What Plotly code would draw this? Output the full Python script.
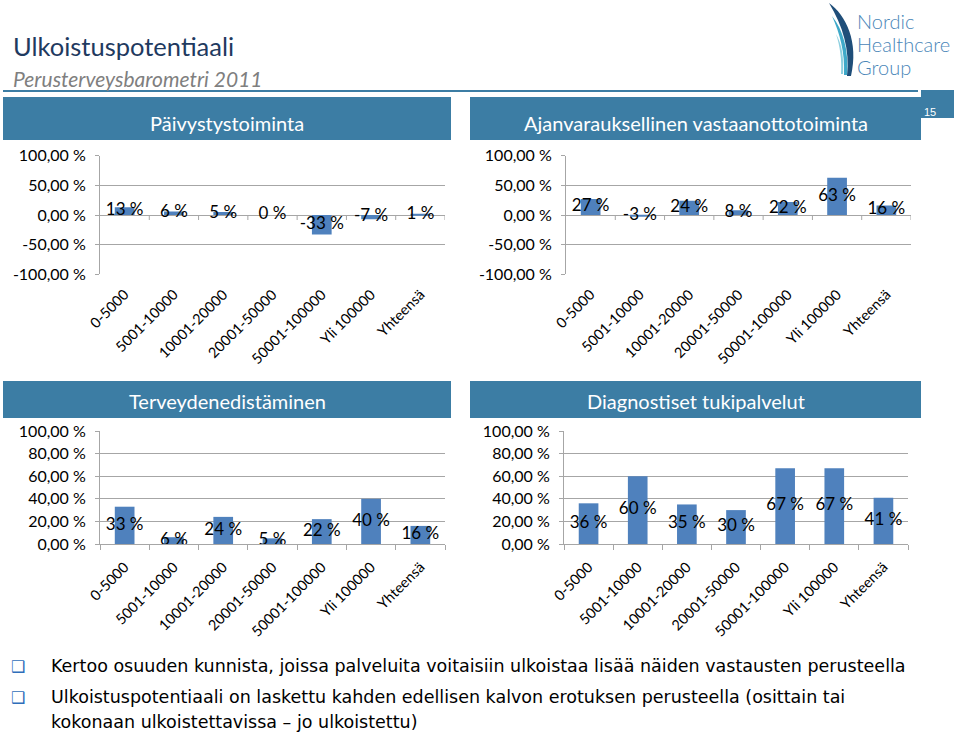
import plotly.graph_objects as go

W, H = 959, 737

categories = ["0-5000", "5001-10000", "10001-20000", "20001-50000", "50001-100000", "Yli 100000", "Yhteensä"]
paivystys = [13, 6, 5, 0, -33, -7, 1]
ajanvaraus = [27, -3, 24, 8, 22, 63, 16]
terveyden = [33, 6, 24, 5, 22, 40, 16]
diagnostiset = [36, 60, 35, 30, 67, 67, 41]

ticks_top = [100, 50, 0, -50, -100]
ticks_top_text = ["100,00 %", "50,00 %", "0,00 %", "-50,00 %", "-100,00 %"]
ticks_bot = [100, 80, 60, 40, 20, 0]
ticks_bot_text = ["100,00 %", "80,00 %", "60,00 %", "40,00 %", "20,00 %", "0,00 %"]

titles = ["Päivystystoiminta", "Ajanvarauksellinen vastaanottotoiminta", "Terveydenedistäminen", "Diagnostiset tukipalvelut"]

BAR = "#4F81BD"
HEAD = "#3C7DA4"
GRID = "#A6A6A6"
FONT = "Lato"

def X(px):
    return px / W

def Y(py):
    return 1 - py / H

fig = go.Figure()

panels = [
    (paivystys, (100, 445), (155.7, 274.3), (-100, 100), ticks_top, ticks_top_text, True),
    (ajanvaraus, (566, 911), (155.7, 274.3), (-100, 100), ticks_top, ticks_top_text, True),
    (terveyden, (100, 445), (431, 544), (0, 100), ticks_bot, ticks_bot_text, False),
    (diagnostiset, (564, 908), (431, 544), (0, 100), ticks_bot, ticks_bot_text, False),
]

shapes = []
annotations = []
layout_axes = {}

for i, (vals, (x0, x1), (y0, y1), rng, tv, tt, centered) in enumerate(panels, start=1):
    xa = "x" if i == 1 else f"x{i}"
    ya = "y" if i == 1 else f"y{i}"
    fig.add_trace(go.Bar(x=categories, y=vals, marker_color=BAR, marker_line_width=0,
                         xaxis=xa, yaxis=ya, hoverinfo="skip"))
    fig.add_trace(go.Scatter(x=categories, y=[v / 2 for v in vals], mode="text",
                             text=[f"{v} %" for v in vals],
                             textfont=dict(size=17, color="black", family=FONT),
                             xaxis=xa, yaxis=ya, cliponaxis=False, hoverinfo="skip"))
    xkey = "xaxis" if i == 1 else f"xaxis{i}"
    ykey = "yaxis" if i == 1 else f"yaxis{i}"
    layout_axes[xkey] = dict(
        domain=[X(x0), X(x1)], anchor=ya, range=[-0.5, 6.5], tickangle=-45,
        tickfont=dict(size=14.5, color="black", family=FONT),
        showgrid=False, zeroline=False, automargin=False,
        showline=not centered, linecolor=GRID, linewidth=1,
        ticks="" if centered else "outside", tickson="boundaries", ticklen=5, tickcolor=GRID,
        ticklabelstandoff=8, fixedrange=True,
    )
    layout_axes[ykey] = dict(
        domain=[Y(y1), Y(y0)], anchor=xa, range=list(rng), tickvals=tv, ticktext=tt,
        tickfont=dict(size=16, color="black", family=FONT),
        showgrid=True, gridcolor=GRID, gridwidth=1, zeroline=False, automargin=False,
        showline=True, linecolor=GRID, linewidth=1, ticks="outside", ticklen=4, tickcolor=GRID,
        ticklabelstandoff=6, fixedrange=True,
    )
    if centered:
        for b in range(len(categories)):
            shapes.append(dict(type="line", xref=xa, yref=ya, ysizemode="pixel", yanchor=0,
                               x0=b + 0.5, x1=b + 0.5, y0=0, y1=-5,
                               line=dict(color=GRID, width=1)))

# Header bars
for (bx0, by0, bx1, by1), title in zip([(3, 97, 451, 140), (470, 97, 921, 140), (3, 381, 451, 418), (470, 381, 921, 418)], titles):
    shapes.append(dict(type="rect", xref="paper", yref="paper", x0=X(bx0), x1=X(bx1), y0=Y(by1), y1=Y(by0),
                       fillcolor=HEAD, line_width=0, layer="below"))
    cy = 123 if by0 < 200 else 401
    annotations.append(dict(x=X((bx0 + bx1) / 2), y=Y(cy), xref="paper", yref="paper", text=title,
                            showarrow=False, xanchor="center", yanchor="middle",
                            font=dict(size=20, color="white", family=FONT)))

# Line under subtitle
shapes.append(dict(type="line", xref="paper", yref="paper", x0=X(3), x1=X(918), y0=Y(91), y1=Y(91),
                   line=dict(color=HEAD, width=2)))
# Page number tab
shapes.append(dict(type="rect", xref="paper", yref="paper", x0=X(921), x1=X(954), y0=Y(118), y1=Y(90),
                   fillcolor=HEAD, line_width=0))
annotations.append(dict(x=X(938), y=Y(104), xref="paper", yref="paper", text="15", showarrow=False,
                        font=dict(size=11, color="white", family="Liberation Sans")))

# Title and subtitle
annotations.append(dict(x=X(11), y=Y(46), xref="paper", yref="paper", text="Ulkoistuspotentiaali",
                        showarrow=False, xanchor="left", yanchor="middle",
                        font=dict(size=25.5, color="#1F3A5F", family=FONT)))
annotations.append(dict(x=X(11), y=Y(79), xref="paper", yref="paper", text="<i>Perusterveysbarometri 2011</i>",
                        showarrow=False, xanchor="left", yanchor="middle",
                        font=dict(size=21, color="#7F7F7F", family=FONT)))

# Logo
def pth(points):
    s = "M {} {}".format(X(points[0][0]), Y(points[0][1]))
    for k in range(1, len(points), 3):
        a, b, c = points[k:k + 3]
        s += " C {} {}, {} {}, {} {}".format(X(a[0]), Y(a[1]), X(b[0]), Y(b[1]), X(c[0]), Y(c[1]))
    return s + " Z"

shapes.append(dict(type="path", xref="paper", yref="paper",
                   path=pth([(829, 3), (846, 15), (859, 42), (851, 76),
                             (849, 76), (849, 76), (847, 76),
                             (850, 50), (843, 26), (829, 3)]),
                   fillcolor="#1F4E79", line_width=0))
shapes.append(dict(type="path", xref="paper", yref="paper",
                   path=pth([(832, 16), (843, 30), (849, 50), (847, 75),
                             (846, 75), (845, 75), (844, 75),
                             (845, 52), (840, 34), (832, 16)]),
                   fillcolor="#3FA9C9", line_width=0))
shapes.append(dict(type="path", xref="paper", yref="paper",
                   path=pth([(836, 34), (842, 44), (844, 58), (843, 74),
                             (842, 74), (842, 74), (841, 74),
                             (842, 60), (840, 46), (836, 34)]),
                   fillcolor="#8FD0E0", line_width=0))
for txt, ly in [("Nordic", 21), ("Healthcare", 44), ("Group", 67)]:
    annotations.append(dict(x=X(855), y=Y(ly), xref="paper", yref="paper", text=txt, showarrow=False,
                            xanchor="left", yanchor="middle",
                            font=dict(size=20, color="#4A86B8", family=FONT, weight=300)))

# Bullets
bullets = [
    ("Kertoo osuuden kunnista, joissa palveluita voitaisiin ulkoistaa lisää näiden vastausten perusteella", 666, True),
    ("Ulkoistuspotentiaali on laskettu kahden edellisen kalvon erotuksen perusteella (osittain tai", 697, True),
    ("kokonaan ulkoistettavissa – jo ulkoistettu)", 722, False),
]
for txt, ly, mark in bullets:
    if mark:
        annotations.append(dict(x=X(18), y=Y(ly), xref="paper", yref="paper", text="❑", showarrow=False,
                                xanchor="center", yanchor="middle",
                                font=dict(size=16, color="#2F6EBA", family="DejaVu Sans")))
    annotations.append(dict(x=X(49), y=Y(ly), xref="paper", yref="paper", text=txt, showarrow=False,
                            xanchor="left", yanchor="middle",
                            font=dict(size=17.5, color="black", family="DejaVu Sans")))

fig.update_layout(
    width=W, height=H, margin=dict(l=0, r=0, t=0, b=0, autoexpand=False),
    paper_bgcolor="white", plot_bgcolor="rgba(0,0,0,0)",
    showlegend=False, bargap=0.6,
    shapes=shapes, annotations=annotations,
    **layout_axes,
)

fig.write_html("out.html", config={"displayModeBar": False},
               post_script="document.body.style.margin='0';document.body.style.overflow='hidden';")
